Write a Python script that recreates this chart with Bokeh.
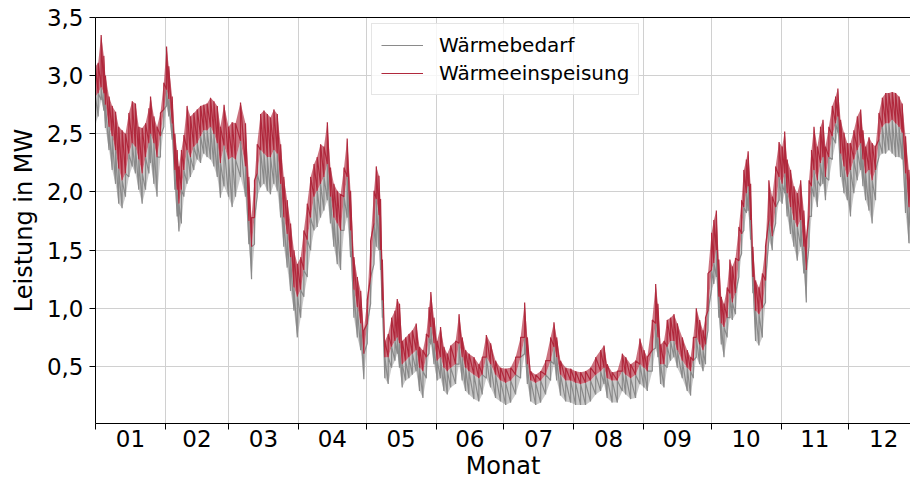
from bokeh.plotting import figure
from bokeh.models import Range1d, FixedTicker, LinearAxis
from bokeh.embed import file_html
from bokeh.resources import INLINE

# ---------------- data ----------------
month_starts = [0, 31, 59, 90, 120, 151, 181, 212, 243, 273, 304, 334, 365]
month_labels = ["01", "02", "03", "04", "05", "06", "07", "08", "09", "10", "11", "12"]
y_ticks = [0.5, 1.0, 1.5, 2.0, 2.5, 3.0, 3.5]
y_tick_labels = ["0,5", "1,0", "1,5", "2,0", "2,5", "3,0", "3,5"]

# sample day of year
days = [0.0, 1.2, 2.5, 3.7, 4.4, 6.0, 7.4, 8.9, 10.3, 11.8, 13.3, 14.8, 16.3, 17.7, 19.2, 20.7,
        22.2, 23.7, 24.4, 25.9, 27.3, 28.8, 30.3, 31.5, 32.5, 34.0, 35.2, 36.2, 37.0, 38.1, 39.2,
        40.6, 42.1, 43.6, 45.1, 46.6, 48.0, 49.5, 51.0, 52.5, 54.0, 55.4, 57.0, 59.0, 60.6, 62.1,
        64.3, 66.5, 68.0, 69.2, 70.5, 71.7, 73.2, 74.7, 76.2, 77.6, 79.1, 80.6, 82.1, 83.5, 85.0,
        86.5, 88.0, 89.5, 91.0, 92.4, 93.9, 95.4, 96.9, 98.3, 99.8, 101.3, 102.8, 104.2, 105.7,
        107.2, 108.7, 110.2, 111.6, 113.1, 114.6, 116.1, 117.6, 119.0, 120.5, 122.0, 123.5, 124.5,
        125.7, 126.4, 127.2, 128.3, 129.8, 131.3, 132.8, 133.8, 134.8, 136.0, 137.5, 139.0, 140.5,
        142.2, 143.7, 145.2, 146.7, 147.9, 148.7, 150.1, 151.5, 153.0, 154.5, 156.0, 157.5, 159.7,
        161.2, 162.6, 164.1, 165.6, 167.8, 170.0, 171.5, 173.3, 175.2, 177.4, 179.6, 181.9, 184.1,
        186.3, 188.5, 190.3, 191.5, 193.0, 195.2, 197.4, 199.6, 201.8, 203.3, 204.5, 206.2, 208.5,
        210.7, 212.9, 215.1, 217.3, 219.5, 221.8, 224.0, 225.5, 226.9, 229.1, 231.4, 233.6, 235.1,
        237.3, 239.5, 241.4, 243.2, 244.7, 246.9, 248.4, 249.4, 250.6, 252.1, 253.5, 255.0, 256.5,
        258.0, 260.2, 262.4, 263.9, 265.1, 266.4, 267.9, 269.4, 270.5, 271.6, 273.2, 274.2, 275.3,
        276.4, 277.5, 278.7, 280.1, 281.3, 282.4, 283.8, 285.3, 286.5, 287.5, 288.6, 289.4, 290.5,
        291.5, 292.7, 294.2, 295.7, 297.1, 298.6, 300.1, 301.6, 303.1, 304.5, 305.6, 306.7, 308.2,
        309.7, 311.2, 312.7, 314.1, 315.2, 316.4, 317.5, 318.6, 320.1, 321.5, 322.6, 323.7, 325.2,
        326.7, 328.2, 329.2, 330.4, 331.9, 333.4, 334.8, 336.3, 337.8, 339.3, 340.3, 341.5, 343.0,
        344.4, 345.9, 347.4, 348.9, 350.4, 351.8, 353.3, 354.8, 356.3, 357.7, 359.2, 360.7, 362.0]

# Wärmeeinspeisung: daily peak (MW)
feed_high = [3.08, 3.11, 3.35, 3.17, 3.00, 2.82, 2.74, 2.69, 2.56, 2.53, 2.50, 2.68, 2.78, 2.76, 2.56, 2.55,
             2.59, 2.72, 2.82, 2.65, 2.56, 2.68, 2.94, 3.25, 3.08, 2.82, 2.50, 2.36, 2.22, 2.36, 2.49,
             2.74, 2.65, 2.68, 2.71, 2.74, 2.75, 2.76, 2.81, 2.78, 2.74, 2.56, 2.75, 2.56, 2.60, 2.59,
             2.77, 2.59, 2.13, 1.78, 2.10, 2.41, 2.67, 2.70, 2.67, 2.64, 2.71, 2.67, 2.41, 2.13, 1.93,
             1.73, 1.50, 1.38, 1.44, 1.67, 1.90, 2.13, 2.24, 2.30, 2.41, 2.39, 2.60, 2.21, 2.07,
             2.01, 1.98, 2.21, 2.46, 2.01, 1.44, 1.27, 1.15, 0.81, 1.07, 1.58, 2.01, 2.22,
             2.14, 1.94, 1.42, 0.72, 0.78, 0.92, 0.98, 1.08, 1.04, 0.72, 0.75, 0.78, 0.81,
             0.87, 0.67, 0.64, 0.78, 1.01, 1.14, 0.92, 0.72, 0.84, 0.67, 0.61, 0.68, 0.72,
             0.95, 0.75, 0.64, 0.61, 0.58, 0.52, 0.58, 0.77, 0.70, 0.55, 0.49, 0.48, 0.49,
             0.58, 0.75, 1.05, 0.75, 0.46, 0.43, 0.46, 0.55, 0.75, 0.88, 0.75, 0.55, 0.49,
             0.48, 0.46, 0.45, 0.46, 0.49, 0.58, 0.64, 0.68, 0.52, 0.45, 0.46, 0.61, 0.58,
             0.52, 0.55, 0.74, 0.64, 0.58, 0.90, 1.21, 1.04, 0.69, 0.72, 0.90, 0.92, 0.95,
             0.87, 0.75, 0.64, 0.58, 0.75, 1.00, 0.90, 0.81, 0.92, 1.30, 1.65, 1.76, 1.84,
             1.42, 1.10, 1.04, 1.18, 1.42, 1.36, 1.43, 1.70, 1.93, 2.19, 2.28, 2.35, 2.07,
             1.53, 1.24, 1.18, 1.30, 1.53, 2.10, 1.96, 2.22, 2.43, 2.39, 2.52, 2.28, 2.19,
             2.05, 1.99, 2.10, 1.84, 1.59, 2.10, 2.36, 2.56, 2.39, 2.56, 2.62, 2.39, 2.56,
             2.74, 2.82, 2.89, 2.62, 2.51, 2.42, 2.42, 2.53, 2.65, 2.71, 2.53, 2.39, 2.47,
             2.42, 2.39, 2.68, 2.81, 2.85, 2.85, 2.86, 2.85, 2.82, 2.76, 2.48, 2.19, 1.90]

# Wärmeeinspeisung: daily low (MW)
feed_low = [2.82, 2.85, 2.90, 2.85, 2.75, 2.56, 2.48, 2.36, 2.20, 2.10, 2.16, 2.33, 2.42, 2.39, 2.28, 2.16,
            2.30, 2.42, 2.50, 2.42, 2.30, 2.48, 2.71, 2.88, 2.80, 2.59, 2.19, 2.02, 1.90, 2.02, 2.19,
            2.36, 2.30, 2.39, 2.42, 2.48, 2.53, 2.53, 2.56, 2.50, 2.42, 2.25, 2.40, 2.28, 2.30, 2.28,
            2.44, 2.22, 1.75, 1.53, 1.78, 2.16, 2.36, 2.33, 2.30, 2.30, 2.36, 2.33, 2.07, 1.78, 1.64,
            1.44, 1.18, 1.10, 1.16, 1.33, 1.59, 1.78, 1.96, 2.01, 2.07, 2.13, 2.24, 1.96, 1.78,
            1.73, 1.67, 1.96, 2.13, 1.67, 1.16, 1.01, 0.87, 0.61, 0.87, 1.27, 1.73, 1.94,
            1.80, 1.50, 1.07, 0.58, 0.58, 0.67, 0.72, 0.75, 0.70, 0.52, 0.55, 0.58, 0.61,
            0.64, 0.49, 0.46, 0.58, 0.75, 0.84, 0.70, 0.55, 0.58, 0.49, 0.46, 0.49, 0.52,
            0.70, 0.58, 0.49, 0.46, 0.43, 0.40, 0.43, 0.58, 0.52, 0.43, 0.38, 0.36, 0.38,
            0.43, 0.58, 0.75, 0.52, 0.38, 0.36, 0.38, 0.43, 0.55, 0.67, 0.58, 0.43, 0.38,
            0.38, 0.36, 0.35, 0.36, 0.38, 0.43, 0.46, 0.49, 0.40, 0.38, 0.38, 0.46, 0.43,
            0.40, 0.43, 0.52, 0.49, 0.46, 0.64, 0.87, 0.75, 0.52, 0.52, 0.67, 0.72, 0.72,
            0.64, 0.55, 0.49, 0.46, 0.55, 0.75, 0.69, 0.64, 0.69, 0.98, 1.33, 1.39, 1.50,
            1.10, 0.87, 0.84, 0.92, 1.13, 1.05, 1.13, 1.41, 1.64, 1.87, 1.99, 2.05, 1.76,
            1.27, 0.98, 0.95, 1.00, 1.24, 1.76, 1.62, 1.87, 2.13, 2.07, 2.16, 1.99, 1.87,
            1.76, 1.70, 1.76, 1.53, 1.33, 1.79, 2.05, 2.19, 2.10, 2.25, 2.30, 2.13, 2.30,
            2.48, 2.59, 2.65, 2.33, 2.22, 2.13, 2.19, 2.28, 2.36, 2.42, 2.28, 2.16, 2.19,
            2.10, 2.19, 2.45, 2.56, 2.59, 2.59, 2.62, 2.59, 2.56, 2.51, 2.16, 1.87, 1.65]

# Wärmebedarf: daily low (MW)
demand_low = [2.59, 2.65, 2.79, 2.70, 2.55, 2.36, 2.19, 2.07, 1.90, 1.86, 1.96, 2.13, 2.22, 2.16, 2.02, 1.90,
              2.02, 2.16, 2.25, 2.07, 1.96, 2.30, 2.56, 2.74, 2.65, 2.45, 2.02, 1.79, 1.66, 1.73, 1.96,
              2.07, 2.13, 2.19, 2.28, 2.25, 2.33, 2.30, 2.28, 2.22, 2.13, 1.95, 2.05, 1.96, 1.87, 1.96,
              2.13, 1.96, 1.55, 1.25, 1.55, 1.96, 2.04, 2.07, 2.01, 1.98, 2.07, 2.01, 1.78, 1.53, 1.35,
              1.15, 0.98, 0.75, 0.92, 1.10, 1.27, 1.50, 1.67, 1.70, 1.78, 1.84, 1.93, 1.73, 1.53,
              1.38, 1.33, 1.67, 1.78, 1.44, 0.92, 0.75, 0.64, 0.39, 0.70, 1.04, 1.38, 1.53,
              1.50, 1.33, 0.92, 0.40, 0.35, 0.49, 0.55, 0.61, 0.49, 0.32, 0.38, 0.40, 0.43,
              0.46, 0.29, 0.23, 0.40, 0.61, 0.69, 0.52, 0.38, 0.40, 0.29, 0.26, 0.32, 0.35,
              0.52, 0.38, 0.29, 0.26, 0.22, 0.20, 0.26, 0.40, 0.32, 0.23, 0.20, 0.17, 0.19,
              0.26, 0.40, 0.61, 0.35, 0.20, 0.17, 0.19, 0.26, 0.38, 0.52, 0.38, 0.25, 0.20,
              0.19, 0.17, 0.17, 0.17, 0.20, 0.26, 0.29, 0.35, 0.23, 0.19, 0.19, 0.29, 0.26,
              0.22, 0.23, 0.35, 0.32, 0.29, 0.46, 0.66, 0.58, 0.35, 0.32, 0.49, 0.55, 0.58,
              0.49, 0.40, 0.29, 0.25, 0.40, 0.58, 0.52, 0.46, 0.52, 0.81, 1.16, 1.21, 1.27,
              0.92, 0.69, 0.58, 0.75, 0.92, 0.90, 0.95, 1.27, 1.47, 1.67, 1.82, 1.84, 1.59,
              1.13, 0.72, 0.68, 0.75, 1.05, 1.59, 1.50, 1.73, 1.93, 1.90, 1.99, 1.79, 1.64,
              1.53, 1.41, 1.53, 1.30, 1.05, 1.53, 1.79, 1.96, 1.87, 2.05, 2.07, 1.93, 2.10,
              2.28, 2.42, 2.51, 2.13, 1.99, 1.93, 1.79, 1.99, 2.10, 2.19, 2.05, 1.93, 1.84,
              1.73, 1.93, 2.30, 2.33, 2.33, 2.36, 2.33, 2.30, 2.30, 2.28, 1.82, 1.56, 1.55]

# ---------------- build the hourly-like traces (one stroke per sample day) ----------------
feed_x, feed_y, dem_x, dem_y = [], [], [], []
for d, hi, lo, glo in zip(days, feed_high, feed_low, demand_low):
    feed_x += [d, d]
    feed_y += [lo, hi]
    dem_x += [d, d]
    dem_y += [glo, lo]

FONT = "DejaVu Sans"
RED = "#b0283c"
GREY = "#8a8a8a"

p = figure(output_backend="svg", toolbar_location=None,
           width=910, height=482,
           x_range=Range1d(0, 361.4), y_range=Range1d(0.01, 3.5),
           min_border_left=95, min_border_right=0, min_border_top=17, min_border_bottom=59,
           background_fill_color="white", border_fill_color="white")
p.outline_line_color = None

# shaded day-to-day spread (under the strokes)
p.varea(x=days, y1=demand_low, y2=feed_low, fill_color=GREY, fill_alpha=0.45)
p.varea(x=days, y1=feed_low, y2=feed_high, fill_color=RED, fill_alpha=0.65)
p.line(dem_x, dem_y, line_color=GREY, line_width=1.2, legend_label="Wärmebedarf")
p.line(feed_x, feed_y, line_color=RED, line_width=1.2, legend_label="Wärmeeinspeisung")

# x axis: month labels at mid-month, tick marks at month borders
mids = [(a + b) / 2 for a, b in zip(month_starts[:-1], month_starts[1:])]
xa = p.xaxis[0]
xa.ticker = FixedTicker(ticks=mids, minor_ticks=month_starts)
xa.major_label_overrides = {m: lab for m, lab in zip(mids, month_labels)}
xa.minor_tick_line_color = "black"
xa.minor_tick_out = 6
xa.minor_tick_in = 0
xa.major_label_standoff = 0
xa.axis_label = "Monat"
xa.axis_label_standoff = 2

ya = p.yaxis[0]
ya.ticker = FixedTicker(ticks=y_ticks)
ya.major_label_overrides = {t: lab for t, lab in zip(y_ticks, y_tick_labels)}
ya.major_tick_out = 6
ya.major_tick_in = 0
ya.minor_tick_line_color = None
ya.major_label_standoff = 6
ya.axis_label = "Leistung in MW"
ya.axis_label_standoff = 6

for ax in (xa, ya):
    ax.axis_line_color = "black"
    ax.axis_line_width = 1
    ax.major_tick_line_color = "black" if ax is ya else None
    ax.major_label_text_font = FONT
    ax.major_label_text_font_size = "23px"
    ax.major_label_text_color = "black"
    ax.axis_label_text_font = FONT
    ax.axis_label_text_font_size = "24px"
    ax.axis_label_text_font_style = "normal"
    ax.axis_label_text_color = "black"

# top spine
top = LinearAxis(ticker=FixedTicker(ticks=[]), major_label_text_font_size="0px",
                 axis_line_color="black", major_tick_line_color=None, minor_tick_line_color=None)
p.add_layout(top, "above")

p.xgrid.ticker = FixedTicker(ticks=month_starts)
p.xgrid.grid_line_color = "#d0d0d0"
p.ygrid.grid_line_color = "#d0d0d0"

lg = p.legend[0]
lg.location = (276, 328)
lg.label_text_font = FONT
lg.label_text_font_size = "20px"
lg.label_text_color = "black"
lg.glyph_width = 42
lg.label_standoff = 16
lg.padding = 9
lg.spacing = 4
lg.margin = 0
lg.border_line_color = "#cccccc"
lg.border_line_width = 1
lg.background_fill_color = "white"
lg.background_fill_alpha = 0.8

open("out.html", "w").write(file_html(p, INLINE))
